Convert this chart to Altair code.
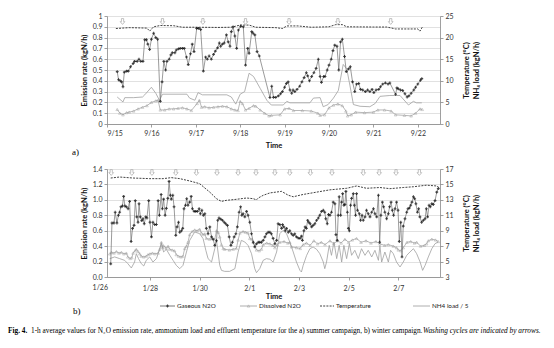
import altair as alt
import pandas as pd

# ---------------- (a) summer campaign: x = day of September ----------------
a_gas_day = [15.23,15.26,15.30,15.33,15.36,15.39,15.44,15.48,15.53,15.59,
             15.62,15.68,15.72,15.76,15.81,15.85,15.89,15.92,15.96,16.00,
             16.05,16.10,16.14,16.20,16.24,16.28,16.32,16.35,16.40,16.44,
             16.47,16.53,16.56,16.61,16.65,16.70,16.74,16.79,16.83,16.88,
             16.92,16.96,17.02,17.06,17.11,17.17,17.22,17.26,17.30,17.35,
             17.40,17.44,17.49,17.53,17.56,17.60,17.64,17.69,17.73,17.77,
             17.80,17.84,17.88,17.92,17.96,18.01,18.07,18.12,18.17,18.20,
             18.26,18.29,18.33,18.38,18.43,18.67,18.71,18.75,18.80,18.86,
             18.91,18.95,19.00,19.04,19.08,19.12,19.16,19.19,19.23,19.28,
             19.34,19.39,19.44,19.49,19.52,19.56,19.61,19.66,19.71,19.76,
             19.80,19.83,19.88,19.91,19.96,20.00,20.05,20.09,20.13,20.18,
             20.22,20.26,20.30,20.35,20.39,20.44,20.48,20.53,20.58,20.62,
             20.67,20.71,20.76,20.82,20.87,20.92,20.97,21.01,21.06,21.12,
             21.16,21.21,21.27,21.33,21.37,21.50,21.53,21.56,21.61,21.66,
             21.71,21.76,21.80,21.85,21.91,21.95,22.00,22.06,22.09]
a_gas_val = [0.485,0.41,0.40,0.39,0.345,0.48,0.49,0.49,0.53,0.56,
             0.58,0.58,0.60,0.58,0.58,0.78,0.78,0.74,0.69,0.785,
             0.84,0.80,0.785,0.21,0.39,0.58,0.50,0.58,0.60,0.64,
             0.66,0.66,0.685,0.695,0.70,0.70,0.70,0.62,0.55,0.65,
             0.74,0.67,0.885,0.885,0.875,0.49,0.62,0.60,0.63,0.60,
             0.645,0.675,0.705,0.75,0.72,0.74,0.75,0.825,0.76,0.72,
             0.855,0.90,0.815,0.70,0.87,0.905,0.90,0.545,0.70,0.655,
             0.855,0.84,0.825,0.67,0.63,0.245,0.35,0.247,0.247,0.26,
             0.28,0.30,0.34,0.375,0.39,0.315,0.285,0.315,0.30,0.32,
             0.35,0.39,0.43,0.475,0.445,0.40,0.44,0.475,0.515,0.60,
             0.44,0.385,0.44,0.44,0.50,0.545,0.60,0.68,0.73,0.72,
             0.50,0.76,0.785,0.625,0.485,0.51,0.53,0.39,0.30,0.37,
             0.375,0.32,0.315,0.30,0.315,0.30,0.32,0.29,0.315,0.32,
             0.345,0.37,0.38,0.37,0.38,0.275,0.335,0.325,0.315,0.31,
             0.28,0.25,0.26,0.285,0.315,0.34,0.37,0.405,0.42]

a_dis_day = [15.23,15.29,15.36,15.44,15.50,15.60,15.70,15.80,15.90,16.00,
             16.10,16.15,16.20,16.30,16.40,16.50,16.60,16.70,16.80,16.90,
             17.03,17.08,17.13,17.20,17.30,17.40,17.50,17.60,17.70,17.80,
             17.88,17.95,18.00,18.05,18.12,18.20,18.30,18.35,18.45,18.55,
             18.65,18.70,18.90,19.00,19.10,19.20,19.40,19.60,19.75,19.80,
             19.90,20.00,20.10,20.20,20.30,20.38,20.42,20.50,20.60,20.80,
             21.00,21.10,21.25,21.40,21.50,21.70,21.85,21.95,22.05,22.10]
a_dis_val = [0.135,0.10,0.085,0.105,0.11,0.12,0.14,0.155,0.17,0.20,
             0.215,0.22,0.13,0.13,0.14,0.14,0.145,0.15,0.14,0.125,
             0.19,0.22,0.155,0.16,0.15,0.155,0.16,0.165,0.16,0.14,
             0.13,0.125,0.21,0.19,0.13,0.145,0.17,0.165,0.13,0.10,
             0.075,0.08,0.085,0.14,0.145,0.125,0.125,0.12,0.10,0.08,
             0.085,0.15,0.175,0.185,0.17,0.12,0.075,0.085,0.11,0.105,
             0.11,0.13,0.13,0.12,0.085,0.08,0.075,0.10,0.14,0.135]

a_temp_day = [15.20,15.50,15.90,15.96,16.05,16.20,16.50,16.70,17.00,17.50,
              17.80,18.00,18.20,18.35,18.80,18.95,19.05,19.30,19.60,20.00,
              20.15,20.30,20.40,21.00,21.30,21.50,22.00,22.05,22.10]
a_temp_val = [22.1,22.3,22.2,21.5,22.5,22.8,22.75,22.4,22.4,22.35,
              22.4,22.9,22.9,22.4,22.3,22.1,22.7,22.7,22.4,22.5,
              23.0,23.0,22.5,22.45,22.45,22.0,22.0,21.5,22.4]

a_nh4_day = [15.23,15.36,15.40,15.60,15.80,15.85,16.00,16.10,16.18,16.25,
             16.80,16.86,16.98,17.05,17.15,17.70,17.80,17.90,18.00,18.10,
             18.20,18.30,18.45,18.60,18.70,18.97,19.05,19.12,19.57,19.65,
             19.80,19.87,19.98,20.10,20.21,20.32,20.40,20.47,20.55,20.70,
             20.92,21.04,21.15,21.37,21.60,21.79,21.90,21.97,22.09]
a_nh4_val = [6.25,5.1,6.1,6.1,6.25,6.75,8.5,7.1,5.5,6.9,
             6.9,6.0,5.5,7.25,6.75,6.75,6.25,4.6,6.9,7.5,
             11.75,11.0,8.25,5.5,4.4,4.4,5.25,4.9,4.9,6.0,
             6.1,4.0,4.5,6.0,7.75,13.8,12.75,9.0,4.5,4.1,
             4.0,4.75,6.4,6.6,6.6,4.4,5.25,4.9,4.9]

a_wash_day = [15.35,16.25,17.16,18.12,19.10,20.20,21.39]
a_x_ticks = [15,16,17,18,19,20,21,22]
a_left_ticks = [0,0.1,0.2,0.3,0.4,0.5,0.6,0.7,0.8,0.9,1.0]
a_right_ticks = [0,5,10,15,20,25]

# ---------------- (b) winter campaign: x = days since 26 January ----------------
b_gas_day = [0.42,0.47,0.55,0.60,0.67,0.73,0.78,0.83,0.89,0.94,
             0.99,1.05,1.12,1.18,1.24,1.30,1.36,1.41,1.47,1.52,
             1.56,1.61,1.67,1.72,1.77,1.83,1.88,1.95,2.00,2.06,
             2.12,2.19,2.26,2.33,2.38,2.45,2.50,2.55,2.61,2.66,
             2.72,2.77,2.82,2.86,2.92,2.97,3.04,3.09,3.15,3.20,
             3.27,3.32,3.37,3.43,3.48,3.53,3.60,3.66,3.71,3.78,
             3.84,3.91,3.98,4.03,4.09,4.15,4.21,4.27,4.34,4.41,
             4.48,4.54,4.61,4.68,4.73,4.78,4.85,4.92,4.99,5.05,
             5.12,5.19,5.26,5.32,5.39,5.46,5.52,5.59,5.65,5.70,
             5.75,5.82,5.89,5.95,6.02,6.09,6.16,6.22,6.29,6.36,
             6.42,6.49,6.56,6.63,6.69,6.76,
             6.83,6.89,6.96,7.03,7.10,7.16,7.23,7.30,7.34,7.39,
             7.45,7.50,7.57,7.63,7.70,7.77,7.83,7.90,7.97,8.04,
             8.10,8.14,8.20,8.25,8.30,8.35,8.40,8.45,8.51,8.57,
             8.64,8.71,8.78,8.84,8.91,8.98,9.04,9.08,9.14,9.19,
             9.25,9.31,9.38,9.45,9.49,9.54,9.58,9.62,9.68,9.72,
             9.76,9.81,9.85,9.89,9.95,9.99,10.03,10.08,10.12,10.19,
             10.23,10.28,10.32,10.36,10.43,10.48,10.54,10.59,10.66,10.72,
             10.79,10.86,10.93,11.00,11.06,11.13,11.20,11.25,11.30,11.36,
             11.41,11.46,11.53,11.60,11.65,11.71,11.76,11.81,11.87,11.93,
             11.99,12.04,12.10,12.15,12.20,12.27,12.34,12.39,12.45,12.50,
             12.55,12.61,12.66,12.71,12.77,12.82,12.87,12.94,13.01,13.08,
             13.13,13.18,13.24,13.29,13.35,13.41,13.48,13.55,13.61]
b_gas_val = [0.17,0.70,0.70,0.84,0.70,0.80,0.84,0.91,0.92,1.045,
             0.92,0.91,0.885,0.98,0.46,0.63,0.67,0.99,0.78,0.71,
             0.95,0.78,0.73,0.755,0.69,0.78,0.765,0.99,0.71,0.52,
             0.71,0.68,0.68,0.99,0.80,1.07,0.885,1.01,0.80,0.89,
             1.02,1.24,1.06,1.01,1.06,0.91,0.54,0.65,0.71,0.58,
             0.60,0.63,0.885,0.93,1.015,0.93,0.97,1.045,0.885,0.85,
             0.85,0.85,0.885,0.82,0.865,0.80,0.82,0.63,0.56,0.65,
             0.52,0.49,0.41,0.47,0.735,0.765,0.75,0.735,0.71,0.69,
             0.67,0.52,0.41,0.45,0.52,0.56,0.65,0.84,0.91,0.80,
             0.82,0.78,0.85,0.80,0.71,0.56,0.45,0.39,0.43,0.45,
             0.45,0.45,0.475,0.52,0.56,0.58,
             0.58,0.56,0.50,0.43,0.475,0.69,0.68,0.63,0.68,0.65,
             0.60,0.63,0.58,0.60,0.56,0.54,0.56,0.52,0.505,0.50,
             0.53,0.475,0.60,0.65,0.63,0.735,0.71,0.69,0.65,0.67,
             0.69,0.735,0.765,0.80,0.85,0.865,0.84,0.755,0.69,0.81,
             0.80,0.84,0.97,0.95,0.55,0.475,0.80,1.04,0.80,0.97,
             1.08,0.93,0.94,1.11,0.84,0.63,0.60,0.93,1.02,1.08,
             0.93,0.80,1.08,0.865,0.82,0.735,0.80,0.735,0.78,0.865,
             0.82,0.78,0.84,0.885,0.82,0.78,1.06,0.45,0.80,0.97,
             0.91,0.84,0.755,0.82,0.91,0.97,0.865,0.80,0.885,0.97,
             0.865,0.46,0.71,0.26,0.66,0.755,0.84,0.885,0.895,0.93,
             0.97,1.04,1.015,0.95,0.84,0.885,0.78,0.71,0.735,0.755,
             0.885,0.78,0.93,0.91,0.95,0.94,0.99,1.10,1.145]

b_dis_day = [0.38,0.45,0.55,0.65,0.75,0.85,0.95,1.05,1.11,1.20,
             1.27,1.32,1.40,1.45,1.52,1.59,1.65,1.75,1.85,1.92,
             2.00,2.10,2.20,2.33,2.39,2.46,2.50,2.53,2.59,2.66,
             2.73,2.79,2.90,2.99,3.06,3.15,3.25,3.33,3.40,3.47,
             3.53,3.60,3.70,3.80,3.90,4.00,4.07,4.14,4.21,4.27,
             4.40,4.50,4.61,4.68,4.75,4.81,4.88,4.95,5.01,5.20,
             5.35,5.48,5.55,5.62,5.75,5.85,5.95,6.02,6.10,6.16,
             6.29,6.40,6.49,6.56,6.70,6.83,6.95,7.03,7.13,7.23,
             7.40,7.55,7.63,7.70,7.90,8.05,8.17,8.30,8.45,8.60,
             8.75,8.90,9.05,9.25,9.40,9.55,9.70,9.85,10.00,10.15,
             10.32,10.50,10.70,10.90,11.10,11.26,11.45,11.60,11.80,11.93,
             12.00,12.10,12.20,12.35,12.50,12.65,12.74,12.90,13.05,13.14,
             13.21,13.35,13.50,13.61]
b_dis_val = [0.30,0.32,0.31,0.33,0.31,0.32,0.30,0.31,0.26,0.24,
             0.25,0.31,0.34,0.36,0.33,0.30,0.27,0.26,0.27,0.29,
             0.30,0.31,0.30,0.31,0.36,0.45,0.38,0.41,0.39,0.37,
             0.40,0.36,0.35,0.34,0.29,0.27,0.26,0.27,0.37,0.40,
             0.45,0.55,0.59,0.61,0.60,0.62,0.57,0.55,0.56,0.50,
             0.49,0.50,0.49,0.60,0.58,0.52,0.42,0.37,0.36,0.35,
             0.36,0.37,0.48,0.57,0.59,0.58,0.57,0.50,0.49,0.45,
             0.35,0.34,0.36,0.42,0.44,0.43,0.41,0.38,0.42,0.45,
             0.46,0.44,0.45,0.39,0.38,0.37,0.42,0.44,0.41,0.47,
             0.43,0.45,0.42,0.47,0.43,0.47,0.44,0.49,0.45,0.48,
             0.50,0.45,0.47,0.44,0.46,0.43,0.41,0.42,0.40,0.38,
             0.35,0.34,0.38,0.45,0.46,0.44,0.45,0.40,0.41,0.43,
             0.47,0.49,0.48,0.46]

b_temp_day = [0.42,0.78,1.32,1.99,2.53,2.86,3.20,3.60,4.00,4.41,
              4.68,4.88,5.08,5.48,5.89,6.16,6.29,6.36,6.56,6.83,
              7.30,7.57,7.77,8.17,8.71,9.25,9.92,10.32,10.72,11.26,
              11.66,12.20,12.61,13.14,13.55,13.68]
b_temp_val = [15.83,15.96,15.83,15.75,15.75,15.88,15.75,15.45,15.1,14.0,
              13.15,12.8,12.94,13.07,13.24,13.15,13.0,13.24,13.59,13.9,
              14.1,13.6,13.4,13.7,14.0,14.3,14.5,14.8,14.5,14.6,
              14.45,14.6,14.7,14.9,14.8,14.5]

b_nh4_day = [0.38,0.58,0.78,0.98,1.11,1.25,1.38,1.45,1.54,1.65,
             1.75,1.85,1.99,2.12,2.26,2.39,2.46,2.55,2.66,2.80,
             2.93,3.06,3.20,3.33,3.47,3.60,3.80,4.00,4.14,4.25,
             4.34,4.48,4.61,4.68,4.74,4.81,4.88,5.01,5.21,5.42,
             5.55,5.68,5.82,5.95,6.09,6.22,6.29,6.42,6.56,6.69,
             6.83,6.96,7.10,7.23,7.36,7.50,7.63,7.77,7.90,8.04,
             8.10,8.17,8.31,8.44,8.57,8.71,8.84,8.98,9.04,9.11,
             9.22,9.31,9.41,9.52,9.62,9.72,9.81,9.92,10.03,10.12,
             10.25,10.39,10.52,10.66,10.79,10.93,11.06,11.20,11.26,11.33,
             11.46,11.60,11.69,11.80,11.93,12.07,12.20,12.34,12.47,12.61,
             12.74,12.88,12.98,13.08,13.21,13.35,13.48,13.61]
b_nh4_val = [5.38,5.6,5.38,5.16,4.73,4.17,4.94,6.02,5.38,4.73,
             4.43,5.16,5.6,4.94,5.38,6.59,7.32,6.24,6.59,5.81,
             5.16,4.51,4.08,4.51,6.24,7.75,8.83,8.62,7.97,6.46,
             5.38,4.94,6.67,7.75,6.24,4.51,3.86,3.73,3.73,4.08,
             6.24,7.75,7.54,7.1,6.02,4.08,3.56,4.08,5.16,5.38,
             5.3,4.94,6.24,8.62,9.05,8.62,7.54,6.24,4.94,3.86,
             3.65,4.51,5.81,6.67,6.89,6.59,6.02,4.94,4.08,4.94,
             7.1,5.81,7.54,5.38,7.1,4.94,7.1,5.38,7.32,5.81,
             6.46,5.38,6.67,5.81,6.46,5.6,6.46,5.16,7.1,4.94,
             6.24,4.94,6.46,6.02,4.94,4.3,4.94,5.81,6.24,6.67,
             6.02,4.94,3.86,4.51,5.6,6.67,7.32,7.54]

b_wash_day = [0.44,1.27,2.08,3.04,3.87,4.70,5.55,6.27,7.03,7.63,8.46,9.33,10.59,11.23,11.91,12.85]
b_x_ticks = [2,4,6,8,10,12]
b_first_tick = [0]
b_first_label = ["1/26"]
b_left_ticks = [0,0.2,0.4,0.6,0.8,1.0,1.2,1.4]
b_right_ticks = [3,5,7,9,11,13,15,17]

legend_labels = ["Gaseous N2O", "Dissolved N2O", "Temperature", "NH4 load / 5"]
caption_bold = "Fig. 4."
caption_main = ("1-h average values for N\u2082O emission rate, ammonium load and effluent temperature "
                "for the a) summer campaign, b) winter campaign.")
caption_italic = "Washing cycles are indicated by arrows."

# ---------------- styling ----------------
W, H = 333, 108
FONT = "Lato"
ARROW = "M-0.38,-1L0.38,-1L0.38,0.05L0.8,0.05L0,1L-0.8,0.05L-0.38,0.05Z"
one = pd.DataFrame({"k": [0]})


def panel(x_enc, y_left, y_right, gas, dis, temp, nh4, wash, arrow_y, extras):
    gas_df = pd.DataFrame({"d": gas[0], "v": gas[1]})
    dis_df = pd.DataFrame({"d": dis[0], "v": dis[1]})
    tmp_df = pd.DataFrame({"d": temp[0], "r": temp[1]})
    nh4_df = pd.DataFrame({"d": nh4[0], "r": nh4[1]})
    wash_df = pd.DataFrame({"d": wash})

    nh4_line = alt.Chart(nh4_df).mark_line(color="#a0a0a0", strokeWidth=0.8).encode(x=x_enc, y=y_right)
    tmp_line = alt.Chart(tmp_df).mark_line(color="#111111", strokeWidth=0.8, strokeDash=[2, 1.2]).encode(x=x_enc, y=y_right)
    right = alt.layer(nh4_line, tmp_line)

    dis_line = alt.Chart(dis_df).mark_line(color="#9a9a9a", strokeWidth=0.7).encode(x=x_enc, y=y_left)
    dis_pts = alt.Chart(dis_df).mark_point(shape="triangle-up", size=7, color="#9a9a9a",
                                           strokeWidth=0.6, filled=False).encode(x=x_enc, y=y_left)
    gas_line = alt.Chart(gas_df).mark_line(color="#707070", strokeWidth=0.7).encode(x=x_enc, y=y_left)
    gas_pts = alt.Chart(gas_df).mark_point(shape="cross", size=8, color="#000000",
                                           filled=True).encode(x=x_enc, y=y_left)
    arrows = alt.Chart(wash_df).mark_point(shape=ARROW, size=34, fill="white", filled=True,
                                           stroke="#a8a8a8", strokeWidth=0.7, opacity=1).encode(
        x=x_enc, y=alt.value(arrow_y))
    left = alt.layer(dis_line, dis_pts, gas_line, gas_pts, arrows, *extras)
    return alt.layer(right, left).resolve_scale(y="independent").properties(width=W, height=H)


def txt(s, x, y, size=7, font=FONT, weight="normal", style="normal", align="left", color="#222"):
    return alt.Chart(one).mark_text(text=s, align=align, baseline="middle", fontSize=size, font=font,
                                    fontWeight=weight, fontStyle=style, color=color).encode(
        x=alt.value(x), y=alt.value(y))


# ---- panel a ----
ax = alt.X("d:Q", scale=alt.Scale(domain=[15, 22.5], nice=False, zero=False),
           axis=alt.Axis(values=a_x_ticks, labelExpr="'9/' + datum.value", title="Time", grid=False,
                         labelPadding=2, titlePadding=5, tickSize=3))
ay_l = alt.Y("v:Q", scale=alt.Scale(domain=[0, 1], nice=False),
             axis=alt.Axis(values=a_left_ticks, format="~g", title="Emission rate (kgN/h)",
                           orient="left", grid=True, titlePadding=4))
ay_r = alt.Y("r:Q", scale=alt.Scale(domain=[0, 25], nice=False, zero=False),
             axis=alt.Axis(values=a_right_ticks, title=["Temperature (\u00b0C)", "NH\u2084 load (kgN/h)"],
                           orient="right", grid=False, titleAngle=270, titlePadding=8))
top = panel(ax, ay_l, ay_r, (a_gas_day, a_gas_val), (a_dis_day, a_dis_val),
            (a_temp_day, a_temp_val), (a_nh4_day, a_nh4_val), a_wash_day, 5.5,
            [txt("a)", -35, 136, size=9, font="Liberation Serif", color="#000")])

# ---- panel b ----
bx = alt.X("d:Q", scale=alt.Scale(domain=[0.27, 13.68], nice=False, zero=False),
           axis=alt.Axis(values=b_x_ticks,
                         labelExpr="datum.value < 6 ? '1/' + (26 + datum.value) : '2/' + (datum.value - 5)",
                         title="Time", grid=False, labelPadding=4, titlePadding=1, tickSize=3))
by_l = alt.Y("v:Q", scale=alt.Scale(domain=[0, 1.4], nice=False),
             axis=alt.Axis(values=b_left_ticks, format=".1f", title="Emission rate (kgN/h)",
                           orient="left", grid=True, titlePadding=4))
by_r = alt.Y("r:Q", scale=alt.Scale(domain=[3, 17], nice=False, zero=False),
             axis=alt.Axis(values=b_right_ticks, title=["Temperature (\u00b0C)", "NH\u2084 load (kgN/h)"],
                           orient="right", grid=False, titleAngle=270, titlePadding=8))

first_df = pd.DataFrame({"d": b_first_tick, "lab": b_first_label})
first_lab = alt.Chart(first_df).mark_text(fontSize=7, font=FONT, color="#333", baseline="top").encode(
    x=bx, y=alt.value(H + 7), text="lab:N")

LY = 137
leg = []
leg.append(alt.Chart(one).mark_rule(color="#555", strokeWidth=0.8).encode(
    x=alt.value(53), x2=alt.value(68), y=alt.value(LY)))
leg.append(alt.Chart(one).mark_point(shape="cross", size=8, color="#000", filled=True).encode(
    x=alt.value(60.5), y=alt.value(LY)))
leg.append(txt(legend_labels[0], 70, LY, size=6.3))
leg.append(alt.Chart(one).mark_rule(color="#999", strokeWidth=0.8).encode(
    x=alt.value(133), x2=alt.value(150), y=alt.value(LY)))
leg.append(alt.Chart(one).mark_point(shape="triangle-up", size=7, color="#999", filled=False,
                                     strokeWidth=0.6).encode(x=alt.value(141.5), y=alt.value(LY)))
leg.append(txt(legend_labels[1], 152, LY, size=6.3))
leg.append(alt.Chart(one).mark_rule(color="#111", strokeWidth=0.8, strokeDash=[2, 1.2]).encode(
    x=alt.value(213), x2=alt.value(227), y=alt.value(LY)))
leg.append(txt(legend_labels[2], 229, LY, size=6.3))
leg.append(alt.Chart(one).mark_rule(color="#999", strokeWidth=0.8).encode(
    x=alt.value(306), x2=alt.value(323), y=alt.value(LY)))
leg.append(txt(legend_labels[3], 325, LY, size=6.3))

CY = 162
CS = 7.3
cap = [
    txt(caption_bold, -99, CY, size=CS, font="Liberation Serif", weight="bold", color="#000"),
    txt(caption_main, -76, CY, size=CS, font="Liberation Serif", color="#000"),
    txt(caption_italic, 316, CY, size=CS, font="Liberation Serif", style="italic", align="left", color="#000"),
]

bottom = panel(bx, by_l, by_r, (b_gas_day, b_gas_val), (b_dis_day, b_dis_val),
               (b_temp_day, b_temp_val), (b_nh4_day, b_nh4_val), b_wash_day, 3.5,
               [first_lab, txt("b)", -34, 142, size=9, font="Liberation Serif", color="#000")] + leg + cap)

chart = alt.vconcat(top, bottom, spacing=45, bounds="flush").properties(
    padding={"left": 8, "top": 12, "right": 2, "bottom": 2}
).configure_axis(
    labelFont=FONT, labelFontSize=7, labelColor="#333",
    titleFont=FONT, titleFontSize=7.5, titleFontWeight="bold", titleColor="#111",
    domainColor="#888", tickColor="#888", tickSize=3, domainWidth=0.8, tickWidth=0.8,
    gridColor="#d9d9d9", gridWidth=0.8
).configure_view(stroke=None)

chart.save("out.html", embed_options={"renderer": "svg", "actions": False})
